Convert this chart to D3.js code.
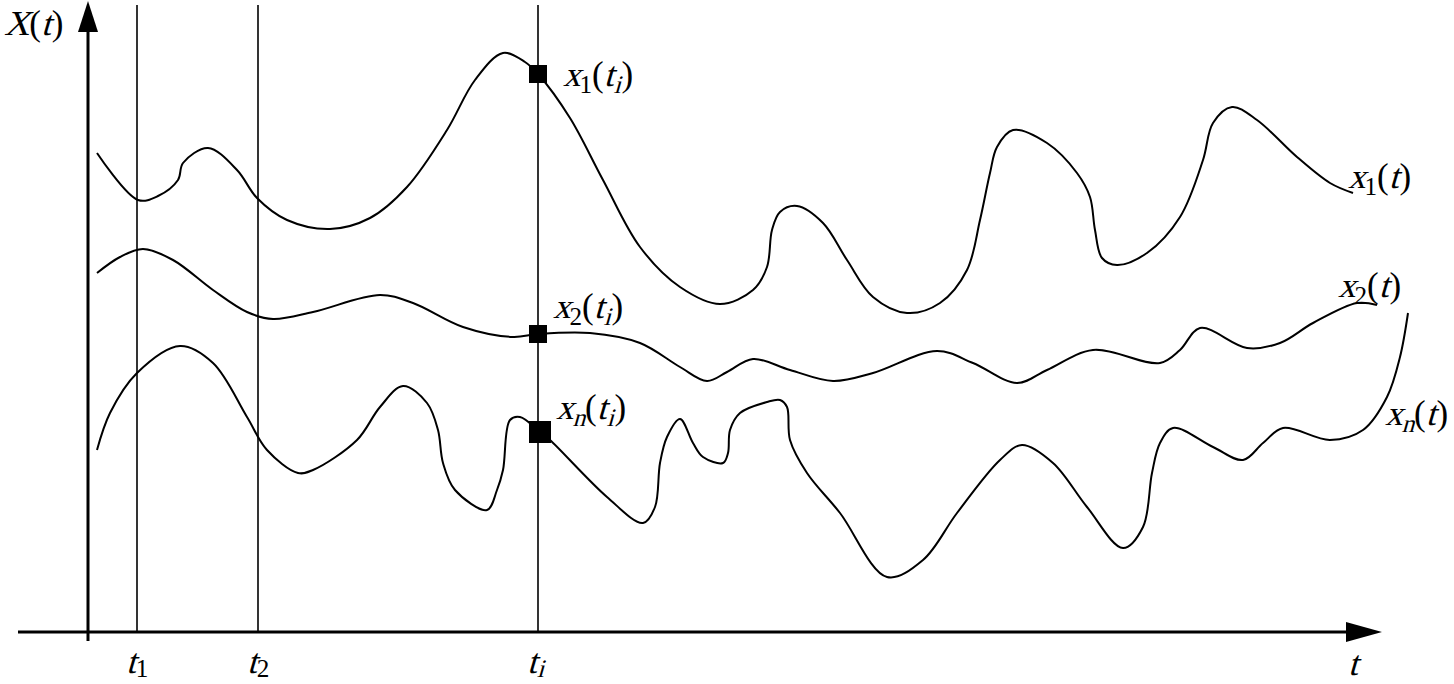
<!DOCTYPE html>
<html>
<head>
<meta charset="utf-8">
<script src="https://cdn.jsdelivr.net/npm/d3@7"></script>
<style>
  html, body { margin: 0; padding: 0; background: #fff; }
  svg { display: block; }
</style>
</head>
<body>
<svg id="chart" width="1454" height="684"></svg>
<script>
// ---- data (t, value) ----
const series1 = [
  [0.9,47.9],[5.0,43.2],[7.0,43.6],[9.0,45.2],[9.5,46.9],[12.0,48.4],[14.9,46.2],[16.9,43.4],
  [19.9,41.2],[24.2,40.3],[28.2,41.4],[31.9,44.5],[35.9,50.2],[38.7,55.2],[41.5,57.9],[43.7,57.0],
  [45.0,55.8],[48.2,51.4],[51.5,45.2],[55.2,38.5],[59.2,34.5],[63.2,32.8],[66.5,34.2],[67.9,36.5],
  [68.4,40.2],[69.2,42.0],[70.9,42.6],[73.5,40.9],[75.9,37.2],[78.5,33.5],[81.9,31.9],[85.2,32.9],
  [87.9,36.2],[89.2,41.2],[90.2,45.9],[90.9,48.5],[92.5,50.2],[95.9,48.9],[98.9,45.9],[100.2,43.5],
  [100.7,40.2],[101.4,37.4],[102.9,36.7],[105.9,37.9],[109.2,41.5],[111.5,47.2],[112.5,50.9],
  [114.4,52.5],[116.9,51.2],[120.9,47.5],[124.2,44.9],[126.5,43.9]
];
const series2 = [
  [0.9,35.9],[3.2,37.5],[5.5,38.3],[8.5,37.2],[12.5,34.2],[15.9,32.0],[18.5,31.3],[22.5,32.0],
  [29.2,33.7],[32.5,32.9],[37.5,30.5],[42.5,29.5],[45.0,29.8],[50.2,29.9],[55.2,28.9],[59.2,26.5],
  [61.9,25.1],[63.9,26.0],[66.5,27.3],[70.2,26.2],[74.5,25.1],[78.5,25.9],[84.9,28.1],[88.5,26.9],
  [92.9,24.9],[95.9,26.2],[100.5,28.2],[107.2,26.9],[109.2,28.2],[111.2,30.4],[115.9,28.4],
  [119.2,28.9],[122.5,30.9],[126.9,32.9],[128.9,32.7]
];
const seriesN = [
  [0.9,18.2],[2.2,21.9],[4.9,25.9],[9.2,28.6],[12.5,26.9],[15.9,21.5],[17.9,18.2],[21.0,15.9],
  [22.5,16.2],[26.9,19.2],[29.2,22.5],[31.5,24.6],[33.9,22.9],[35.0,20.2],[35.5,16.9],[36.7,14.2],
  [39.9,12.2],[40.9,14.2],[41.5,16.2],[42.2,21.2],[43.2,21.5],[45.2,20.0],[46.2,19.2],[51.9,13.5],
  [55.5,10.9],[56.7,12.5],[57.2,16.9],[57.9,19.5],[59.2,21.3],[60.5,18.9],[61.5,17.5],[63.5,16.9],
  [64.0,17.9],[64.2,20.2],[65.2,21.9],[67.9,23.0],[69.2,23.2],[69.9,22.5],[70.2,19.2],[71.9,15.9],
  [75.2,11.9],[79.9,5.5],[83.5,7.2],[86.9,11.9],[91.2,17.2],[93.4,18.7],[96.5,16.9],[99.9,12.5],
  [103.5,8.4],[105.5,10.5],[106.4,15.9],[107.2,18.9],[108.5,20.4],[112.5,18.5],[115.5,17.2],
  [117.5,18.9],[119.5,20.4],[124.2,19.2],[127.5,20.2],[129.9,23.5],[131.2,27.5],[132.0,31.9]
];
const timeMarks = [4.9, 17.0, 45.0];          // t1, t2, ti
const timeLabels = [["t","1",false],["t","2",false],["t","i",true]];
const sampleT = 45.0;
const sampleValues = [55.8, 29.8, 20.0];      // x1(ti), x2(ti), xn(ti)
const sampleLabels = [["x","1",false],["x","2",false],["x","n",true]];
const curveLabels = [["x","1",false],["x","2",false],["x","n",true]];

// ---- scales ----
const svg = d3.select("#chart");
const x = d3.scaleLinear().domain([0, 130]).range([88, 1388]);
const y = d3.scaleLinear().domain([0, 60]).range([632, 32]);

// ---- axes ----
const ax = svg.append("g");
ax.append("line").attr("x1", 18).attr("x2", 1350).attr("y1", y(0)).attr("y2", y(0))
  .attr("stroke", "#000").attr("stroke-width", 3);
ax.append("path").attr("d", `M1382,${y(0)} L1346,${y(0)-10} L1346,${y(0)+10} Z`).attr("fill", "#000");
ax.append("line").attr("x1", x(0)).attr("x2", x(0)).attr("y1", 641).attr("y2", 25)
  .attr("stroke", "#000").attr("stroke-width", 3);
ax.append("path").attr("d", `M${x(0)},1 L${x(0)-10},32 L${x(0)+10},32 Z`).attr("fill", "#000");

// vertical time lines
svg.append("g").selectAll("line").data(timeMarks).join("line")
  .attr("x1", d => x(d)).attr("x2", d => x(d))
  .attr("y1", 5).attr("y2", y(0))
  .attr("stroke", "#000").attr("stroke-width", 1.6);

// ---- curves ----
const line = d3.line().x(d => x(d[0])).y(d => y(d[1])).curve(d3.curveCatmullRom.alpha(0.5));
svg.append("g").selectAll("path").data([series1, series2, seriesN]).join("path")
  .attr("d", line).attr("fill", "none").attr("stroke", "#000").attr("stroke-width", 2);

// ---- sample markers ----
const sizes = [18, 18, 22];
const offs = [0, 0, 2];
svg.append("g").selectAll("rect").data(sampleValues).join("rect")
  .attr("x", (d, i) => x(sampleT) - sizes[i] / 2 + offs[i])
  .attr("y", (d, i) => y(d) - sizes[i] / 2)
  .attr("width", (d, i) => sizes[i]).attr("height", (d, i) => sizes[i])
  .attr("fill", "#000");

// ---- text: serif roman with sheared italic parts ----
const FS = 35, SUB = 0.72, SKEW = -16;
const FONT = "'Liberation Serif', 'Times New Roman', Tinos, serif";
const labelsG = svg.append("g");
function richLabel(x0, y0, parts, subDy) {
  const g = labelsG.append("g");
  let cx = x0;
  parts.forEach(p => {
    const fs = p.sub ? FS * SUB : FS;
    const by = y0 + (p.sub ? subDy : 0);
    const t = g.append("text").text(p.s)
      .attr("font-size", fs).attr("fill", "#000")
      .style("font-family", FONT).style("font-style", "normal");
    t.attr("transform", `translate(${cx},${by})` + (p.it ? ` skewX(${SKEW})` : ""));
    const w = t.node().getComputedTextLength();
    cx += w + (p.gap || 0);
  });
  return g;
}
function fnParts(v, sub, subIt, arg, argSub) {
  const parts = [
    {s: v, it: true, gap: -1},
    {s: sub, it: subIt, sub: true, gap: 0},
    {s: "(", it: false, gap: 0},
    {s: arg, it: true, gap: argSub ? 0 : 1}
  ];
  if (argSub) parts.push({s: argSub, it: true, sub: true, gap: 1});
  parts.push({s: ")", it: false});
  return parts;
}

// Y axis title
richLabel(4, 35, [{s:"X", it:true, gap:0},{s:"(", it:false},{s:"t", it:true, gap:1},{s:")", it:false}], 0);
// X axis title
richLabel(1348, 675, [{s:"t", it:true}], 0);

// time labels
timeLabels.forEach((tl, i) => {
  richLabel(x(timeMarks[i]) - 11, 673, [{s: tl[0], it: true, gap: 0}, {s: tl[1], it: tl[2], sub: true}], 4);
});

// sample labels x_k(t_i)
const sampleLabelPos = [[563, 86], [553, 318], [556, 419]];
sampleLabels.forEach((sl, i) => {
  richLabel(sampleLabelPos[i][0], sampleLabelPos[i][1], fnParts(sl[0], sl[1], sl[2], "t", "i"), 7);
});

// curve labels x_k(t)
const curveLabelPos = [[1348, 188], [1338, 297], [1385, 425]];
curveLabels.forEach((cl, i) => {
  richLabel(curveLabelPos[i][0], curveLabelPos[i][1], fnParts(cl[0], cl[1], cl[2], "t", null), 7);
});
</script>
</body>
</html>
